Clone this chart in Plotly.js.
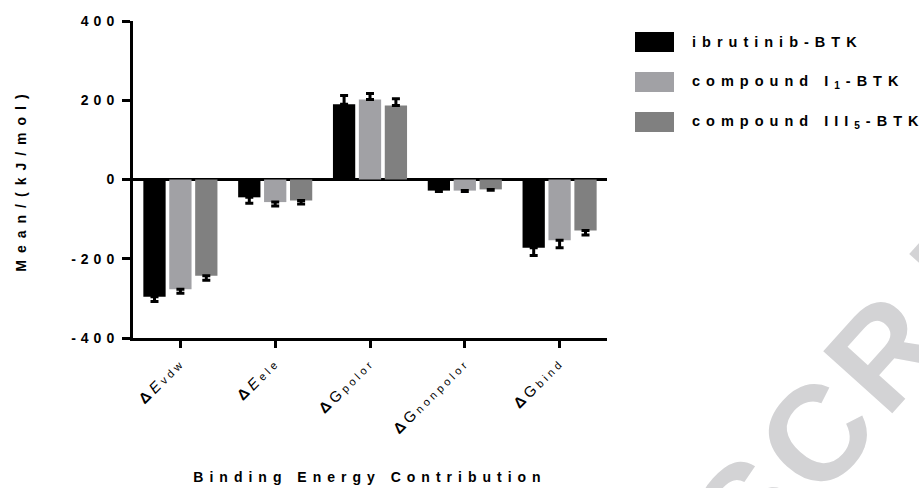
<!DOCTYPE html>
<html><head><meta charset="utf-8">
<script src="https://cdn.plot.ly/plotly-3.0.1.min.js"></script>
<style>
html,body{margin:0;padding:0;background:#fff;}
#chart{width:919px;height:488px;}
#chart .ytick text{letter-spacing:5px;}
#chart .g-ytitle text{letter-spacing:7px;}
#chart .g-xtitle text{letter-spacing:6px;}
#chart .xtick text{letter-spacing:3.5px;}
.annotation-text{letter-spacing:6px;}
</style></head>
<body><div id="chart"></div>
<script>
// ---- data ----
const categories = ['ΔEvdw', 'ΔEele', 'ΔGpolor', 'ΔGnonpolor', 'ΔGbind'];
const tickLabels = [
  '<b>Δ</b><i>E</i><span style="font-size:11px">vdw</span>',
  '<b>Δ</b><i>E</i><span style="font-size:11px">ele</span>',
  '<b>Δ</b>G<span style="font-size:11px">polor</span>',
  '<b>Δ</b>G<span style="font-size:11px">nonpolor</span>',
  '<b>Δ</b>G<span style="font-size:11px">bind</span>'
];
const seriesNames = ['ibrutinib-BTK', 'compound I<sub>1</sub>-BTK', 'compound III<sub>5</sub>-BTK'];
const ibrutinib = [-296, -45, 190, -28, -172];
const ibrutinibErr = [12, 15, 22, 2, 20];
const compoundI1 = [-277, -57, 202, -28, -153];
const compoundI1Err = [10, 10, 15, 2, 19];
const compoundIII5 = [-243, -53, 187, -25, -129];
const compoundIII5Err = [11, 9, 17, 2, 11];
const yTicks = [-400, -200, 0, 200, 400];
const colors = ['#000000', '#a1a1a5', '#808080'];

function errObj(vals, errs) {
  return {
    type: 'data', symmetric: false,
    array: vals.map((v, i) => v >= 0 ? errs[i] : 0),
    arrayminus: vals.map((v, i) => v < 0 ? errs[i] : 0),
    color: '#000', thickness: 3, width: 4
  };
}
const allVals = [ibrutinib, compoundI1, compoundIII5];
const allErrs = [ibrutinibErr, compoundI1Err, compoundIII5Err];
const traces = allVals.map((vals, k) => ({
  type: 'bar', x: categories, y: vals, name: seriesNames[k],
  marker: {color: colors[k], line: {width: 0}},
  error_y: errObj(vals, allErrs[k]),
  showlegend: false
}));

const W = 919, H = 488, L = 133, R = 312, T = 21, B = 150;
const pw = W - L - R, ph = H - T - B;
const px = x => (x - L) / pw;
const py = y => (H - B - y) / ph;

const shapes = [];
const annotations = [];
// faint watermark letters
const wm = [['S', 750, 508], ['C', 818, 432], ['R', 886, 350], ['I', 952, 275]];
wm.forEach(([t, x, y]) => annotations.push({xref: 'paper', yref: 'paper', x: px(x), y: py(y),
  xanchor: 'center', yanchor: 'middle', showarrow: false, text: '<b>' + t + '</b>', textangle: -48,
  font: {family: 'Liberation Sans, Arial, sans-serif', size: 135, color: '#d3d3d5'}}));
// custom legend
const legTop = [32, 72, 112];
colors.forEach((c, k) => {
  shapes.push({type: 'rect', xref: 'paper', yref: 'paper',
    x0: px(635), x1: px(674), y0: py(legTop[k]), y1: py(legTop[k] + 20),
    fillcolor: c, line: {width: 0}});
  annotations.push({xref: 'paper', yref: 'paper', x: px(690), y: py(legTop[k] + 10),
    xanchor: 'left', yanchor: 'middle', showarrow: false, text: '<b>' + seriesNames[k] + '</b>',
    font: {family: 'Liberation Sans, Arial, sans-serif', size: 14.5, color: '#000'}});
});

const layout = {
  width: W, height: H,
  margin: {l: L, r: R, t: T, b: B, pad: 0},
  paper_bgcolor: '#fff', plot_bgcolor: '#fff',
  font: {family: 'Liberation Sans, Arial, sans-serif', color: '#000'},
  barmode: 'group', bargap: 0.18, bargroupgap: 0.14,
  xaxis: {
    type: 'category', range: [-0.5, 4.5], tickvals: categories, ticktext: tickLabels,
    tickangle: -45, ticks: 'outside', ticklen: 7, tickwidth: 3, tickcolor: '#000',
    showline: true, linewidth: 3, linecolor: '#000', showgrid: false, zeroline: false,
    tickfont: {size: 15, color: '#000'},
    title: {text: '<b>Binding Energy Contribution</b>', font: {size: 14}, standoff: 62}
  },
  yaxis: {
    range: [-400, 400], tickvals: yTicks, ticktext: yTicks.map(String),
    ticks: 'outside', ticklen: 8, tickwidth: 3, tickcolor: '#000',
    showline: true, linewidth: 3, linecolor: '#000', showgrid: false,
    zeroline: true, zerolinewidth: 3, zerolinecolor: '#000',
    tickfont: {size: 14, weight: 'bold', color: '#000'},
    title: {text: '<b>Mean/(kJ/mol)</b>', font: {size: 14}, standoff: 62}
  },
  shapes: shapes, annotations: annotations, showlegend: false
};
Plotly.newPlot('chart', traces, layout, {displayModeBar: false, staticPlot: true});
</script></body></html>
